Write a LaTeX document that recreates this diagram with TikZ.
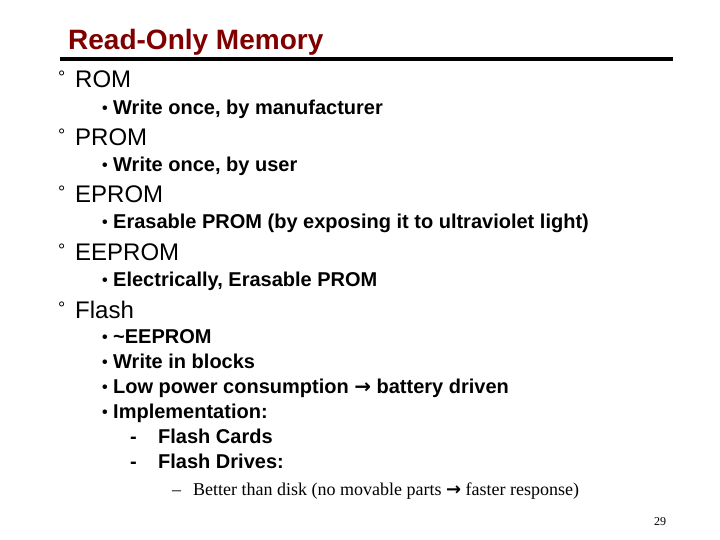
\documentclass[tikz,border=0pt]{standalone}
\usepackage{fontspec}
\setmainfont{Liberation Sans}
\newfontfamily\timesf{Liberation Serif}
\newfontfamily\dejab{DejaVu Sans}
\newcommand{\arr}{{\dejab\bfseries →}}
\begin{document}
\begin{tikzpicture}[x=1pt,y=-1pt,
  ttl/.style={anchor=base west,inner sep=0,font=\fontsize{28}{32}\selectfont\bfseries,text={rgb,255:red,128;green,0;blue,0}},
  head/.style={anchor=base west,inner sep=0,font=\fontsize{24}{28}\selectfont},
  sub/.style={anchor=base west,inner sep=0,font=\fontsize{20}{24}\selectfont\bfseries},
  bul/.style={anchor=base west,inner sep=0,font=\fontsize{16}{19}\selectfont\bfseries},
  degmark/.style={anchor=base west,inner sep=0,font=\fontsize{18}{20}\selectfont},
  tim/.style={anchor=base west,inner sep=0,font=\fontsize{18}{21}\selectfont\timesf}]
\useasboundingbox[fill=white] (0,0) rectangle (720,540);
\node[ttl] (title) at (68,50) {Read-Only Memory};
\coordinate (l1) at (60,59.5); \coordinate (l2) at (673,59.5);
\draw[line width=4pt] (l1) -- (l2);
\foreach \n/\y/\t in {h1/88/ROM,h2/146/PROM,h3/203/EPROM,h4/260/EEPROM,h5/318/Flash}{
  \node[degmark] (m\n) at (58,\y-4) {°};
  \node[head] (\n) at (75,\y) {\t};
}
\foreach \n/\y/\t in {s1/115/{Write once, by manufacturer},s2/172/{Write once, by user},
  s3/229/{Erasable PROM (by exposing it to ultraviolet light)},s4/286/{Electrically, Erasable PROM},
  s5/343/{\textasciitilde EEPROM},s6/368/{Write in blocks},s7/393/{Low power consumption \arr{} battery driven},
  s8/418/{Implementation:}}{
  \node[bul] (b\n) at (102,\y-1) {•};
  \node[sub] (\n) at (113,\y) {\t};
}
\node[sub] (d1) at (130,443) {-}; \node[sub] (t1) at (158,443) {Flash Cards};
\node[sub] (d2) at (130,468) {-}; \node[sub] (t2) at (158,468) {Flash Drives:};
\node[tim] (d3) at (172,495) {–};
\node[tim] (t3) at (193,495) {Better than disk (no movable parts \arr{} faster response)};
\node[anchor=base west,inner sep=0,font=\fontsize{12}{14}\selectfont\timesf] (pg) at (654,525) {29};
\end{tikzpicture}
\end{document}
